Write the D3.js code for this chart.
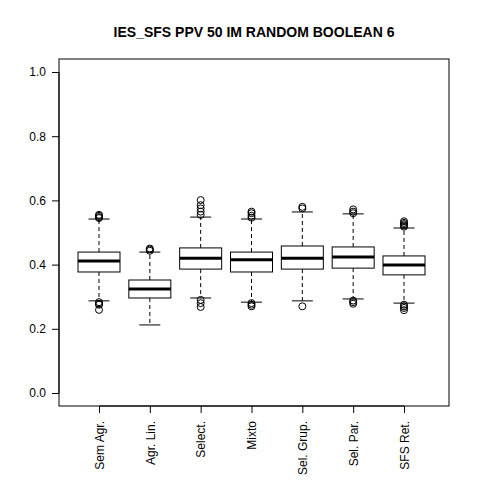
<!DOCTYPE html>
<html><head><meta charset="utf-8">
<script src="https://cdn.jsdelivr.net/npm/d3@7"></script>
<style>body{margin:0;background:#fff}</style>
</head><body>
<script>
"use strict";

var categories = ["Sem Agr.", "Agr. Lin.", "Select.", "Mixto", "Sel. Grup.", "Sel. Par.", "SFS Ret."];
var whiskLow  = [0.287, 0.212, 0.296, 0.283, 0.287, 0.293, 0.280];
var q1        = [0.377, 0.296, 0.386, 0.377, 0.386, 0.389, 0.368];
var medians   = [0.411, 0.324, 0.420, 0.415, 0.420, 0.424, 0.399];
var q3        = [0.439, 0.352, 0.452, 0.439, 0.458, 0.455, 0.427];
var whiskHigh = [0.542, 0.439, 0.548, 0.542, 0.564, 0.558, 0.514];
var outliers = [
    [0.548, 0.552, 0.555, 0.545, 0.283, 0.278, 0.275, 0.259],
    [0.443, 0.447, 0.450],
    [0.555, 0.565, 0.575, 0.585, 0.601, 0.290, 0.280, 0.268],
    [0.546, 0.552, 0.560, 0.565, 0.280, 0.275, 0.270],
    [0.575, 0.580, 0.270],
    [0.560, 0.565, 0.572, 0.288, 0.283, 0.278],
    [0.518, 0.522, 0.526, 0.530, 0.535, 0.275, 0.270, 0.265, 0.258]
];
var yTicks = [0.0, 0.2, 0.4, 0.6, 0.8, 1.0];

function draw_box() {
    var svg = d3.select("body").append("svg")
        .attr("width", 480).attr("height", 480)
        .style("font-family", "Liberation Sans, Arial, sans-serif");

    var left = 59, right = 449, top = 59, bottom = 406;
    var x = d3.scalePoint().domain(categories).range([99, 404]);
    var y = d3.scaleLinear().domain([0, 1]).range([393, 72]);
    var bw = 42;

    svg.append("rect").attr("x", left).attr("y", top)
        .attr("width", right - left).attr("height", bottom - top)
        .attr("fill", "none").attr("stroke", "#000");

    svg.append("text").attr("x", 254).attr("y", 37).attr("text-anchor", "middle")
        .attr("font-weight", "bold").attr("font-size", 14)
        .text("IES_SFS PPV 50 IM RANDOM BOOLEAN 6");

    var ya = svg.append("g").attr("transform", "translate(" + left + ",0)")
        .call(d3.axisLeft(y).tickValues(yTicks).tickFormat(d3.format(".1f")).tickSizeOuter(0).tickSize(7));
    ya.select(".domain").attr("d", "M-7," + y(0) + "H0V" + y(1) + "H-7").attr("stroke", "none");
    ya.append("line").attr("x1", 0).attr("x2", 0).attr("y1", y(0)).attr("y2", y(1)).attr("stroke", "#000");
    ya.selectAll("text").attr("font-size", 12).attr("fill", "#000").attr("dx", "-3");

    var xa = svg.append("g").attr("transform", "translate(0," + bottom + ")")
        .call(d3.axisBottom(x).tickSize(7).tickSizeOuter(0));
    xa.select(".domain").remove();
    xa.append("line").attr("x1", x(categories[0])).attr("x2", x(categories[6])).attr("stroke", "#000");
    xa.selectAll("text").attr("font-size", 12).attr("fill", "#000")
        .attr("transform", "rotate(-90)").attr("text-anchor", "end")
        .attr("x", -15).attr("y", 0).attr("dy", "0.35em");

    categories.forEach(function(c, i) {
        var cx = x(c);
        var g = svg.append("g");
        g.append("line").attr("x1", cx).attr("x2", cx).attr("y1", y(q3[i])).attr("y2", y(whiskHigh[i]))
            .attr("stroke", "#000").attr("stroke-dasharray", "4,3");
        g.append("line").attr("x1", cx).attr("x2", cx).attr("y1", y(q1[i])).attr("y2", y(whiskLow[i]))
            .attr("stroke", "#000").attr("stroke-dasharray", "4,3");
        [whiskLow[i], whiskHigh[i]].forEach(function(v) {
            g.append("line").attr("x1", cx - bw / 4).attr("x2", cx + bw / 4)
                .attr("y1", y(v)).attr("y2", y(v)).attr("stroke", "#000");
        });
        g.append("rect").attr("x", cx - bw / 2).attr("y", y(q3[i]))
            .attr("width", bw).attr("height", y(q1[i]) - y(q3[i]))
            .attr("fill", "#fff").attr("stroke", "#000");
        g.append("line").attr("x1", cx - bw / 2).attr("x2", cx + bw / 2)
            .attr("y1", y(medians[i])).attr("y2", y(medians[i]))
            .attr("stroke", "#000").attr("stroke-width", 3);
        outliers[i].forEach(function(v) {
            g.append("circle").attr("cx", cx).attr("cy", y(v)).attr("r", 3.5)
                .attr("fill", "none").attr("stroke", "#000");
        });
    });
}

draw_box();
</script>
</body></html>
